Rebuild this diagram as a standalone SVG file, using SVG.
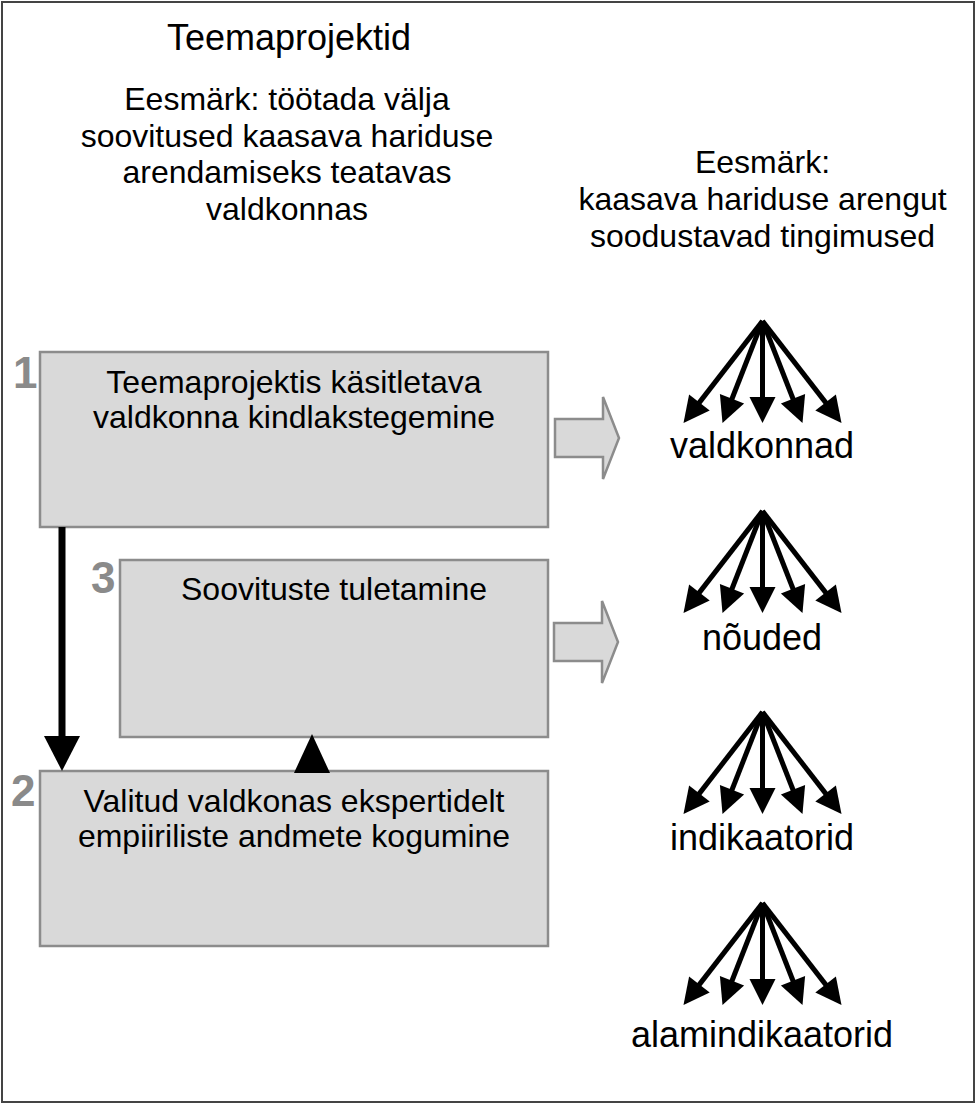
<svg xmlns="http://www.w3.org/2000/svg" xmlns:xlink="http://www.w3.org/1999/xlink" width="977" height="1114" viewBox="0 0 977 1114">
<style>
text{font-family:"Liberation Sans",Arial,sans-serif;fill:#000}
.t32{font-size:32px;text-anchor:middle}
.t36{font-size:36px;text-anchor:middle}
.num{font-size:44px;font-weight:bold;fill:#8a8a8a}
.box{fill:#d9d9d9;stroke:#8c8c8c;stroke-width:2.5}
.blk{fill:#d9d9d9;stroke:#8c8c8c;stroke-width:2.5;stroke-linejoin:miter}
.fanl{stroke:#000;stroke-width:5;fill:none}
.head{fill:#000}
</style>
<defs>
<g id="fan">
<line class="fanl" x1="0" y1="0" x2="-70.4" y2="90.9"/>
<line class="fanl" x1="0" y1="0" x2="-34.9" y2="89"/>
<line class="fanl" x1="0" y1="0" x2="0" y2="88"/>
<line class="fanl" x1="0" y1="0" x2="34.9" y2="89"/>
<line class="fanl" x1="0" y1="0" x2="70.4" y2="90.9"/>
<polygon class="head" points="-79,102 -52.8,89.4 -73.4,73.4"/>
<polygon class="head" points="-40,102 -18.4,82.5 -42.6,73"/>
<polygon class="head" points="0,102 13,76 -13,76"/>
<polygon class="head" points="40,102 18.4,82.5 42.6,73"/>
<polygon class="head" points="79,102 52.8,89.4 73.4,73.4"/>
</g>
<polygon id="blockarrow" points="0,-19 48,-19 48,-41 64,0 48,41 48,19 0,19"/>
</defs>
<rect id="frame" x="2" y="2" width="972" height="1100" fill="#fff" stroke="#444" stroke-width="2"/>
<g id="title">
<text class="t36" x="289" y="50">Teemaprojektid</text>
</g>
<g id="goal-left">
<text class="t32" x="287" y="110">Eesmärk: töötada välja</text>
<text class="t32" x="287" y="146.5">soovitused kaasava hariduse</text>
<text class="t32" x="287" y="183">arendamiseks teatavas</text>
<text class="t32" x="287" y="219.5">valdkonnas</text>
</g>
<g id="goal-right">
<text class="t32" x="762.5" y="173.3">Eesmärk:</text>
<text class="t32" x="762.5" y="210">kaasava hariduse arengut</text>
<text class="t32" x="762.5" y="246.7">soodustavad tingimused</text>
</g>
<g id="node1">
<rect class="box" x="40" y="352" width="508" height="175"/>
<text class="num" x="13" y="388">1</text>
<text class="t32" x="294" y="393">Teemaprojektis käsitletava</text>
<text class="t32" x="294" y="428">valdkonna kindlakstegemine</text>
</g>
<g id="node3">
<rect class="box" x="120" y="560" width="428" height="177"/>
<text class="num" x="91" y="593">3</text>
<text class="t32" x="334" y="600">Soovituste tuletamine</text>
</g>
<g id="node2">
<rect class="box" x="40" y="771" width="508" height="175"/>
<text class="num" x="11" y="806">2</text>
<text class="t32" x="294" y="812">Valitud valdkonas ekspertidelt</text>
<text class="t32" x="294" y="847">empiiriliste andmete kogumine</text>
</g>
<g id="connectors">
<line x1="62" y1="527" x2="62" y2="738" stroke="#000" stroke-width="7"/>
<polygon points="44,736 80,736 62,771" fill="#000"/>
<polygon points="294,773 330,773 312,734" fill="#000"/>
<use xlink:href="#blockarrow" class="blk" transform="translate(555,438)"/>
<use xlink:href="#blockarrow" class="blk" transform="translate(554,642)"/>
<use xlink:href="#fan" transform="translate(762.5,321)"/>
<use xlink:href="#fan" transform="translate(762.5,511)"/>
<use xlink:href="#fan" transform="translate(762.5,712)"/>
<use xlink:href="#fan" transform="translate(762.5,903)"/>
</g>
<g id="level-valdkonnad"><text class="t36" x="762" y="458">valdkonnad</text></g>
<g id="level-noudeed"><text class="t36" x="762" y="650">nõuded</text></g>
<g id="level-indikaatorid"><text class="t36" x="762" y="850">indikaatorid</text></g>
<g id="level-alamindikaatorid"><text class="t36" x="762" y="1047">alamindikaatorid</text></g>
</svg>
